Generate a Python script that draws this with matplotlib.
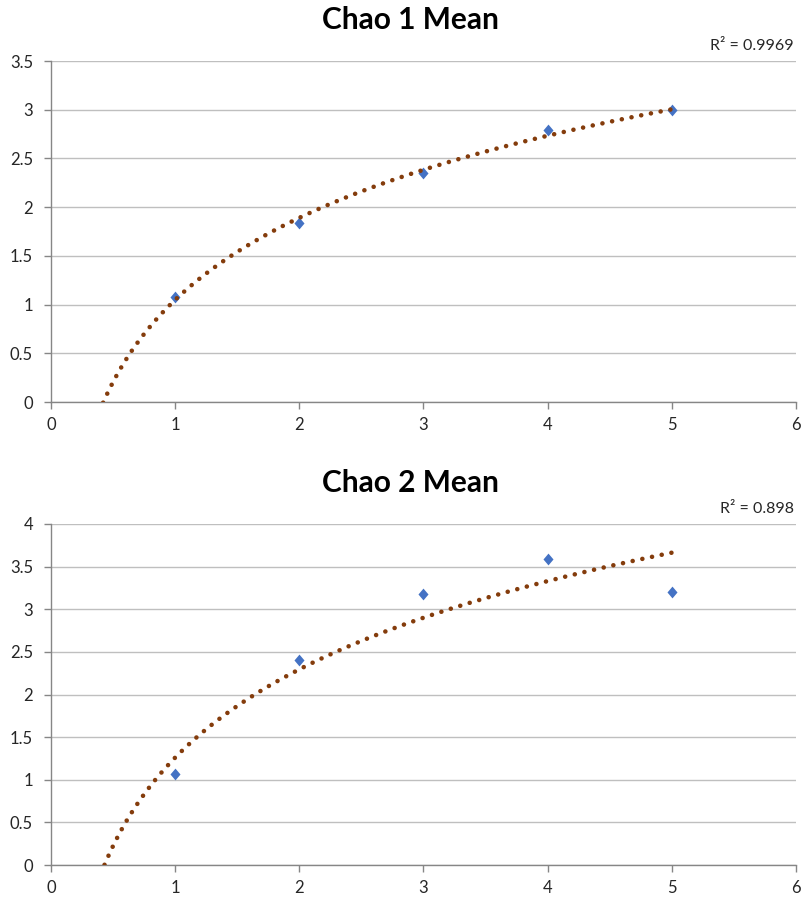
import numpy as np
import matplotlib
matplotlib.use("Agg")
import matplotlib.pyplot as plt
from matplotlib.ticker import FuncFormatter

plt.rcParams['font.family'] = ['Lato', 'DejaVu Sans']

# Sampling effort (x) and mean richness estimates
x_vals = [1, 2, 3, 4, 5]
chao1_mean = [1.08, 1.84, 2.35, 2.79, 3.00]
chao2_mean = [1.07, 2.41, 3.18, 3.59, 3.20]

titles = ["Chao 1 Mean", "Chao 2 Mean"]
r2_labels = ["R\u00b2 = 0.9969", "R\u00b2 = 0.898"]
y_maxes = [3.5, 4.0]
x_ticks = [0, 1, 2, 3, 4, 5, 6]

W, H = 804, 901
fig = plt.figure(figsize=(W / 100, H / 100), dpi=100)

# axes boxes in pixel coordinates: (left, top, right, bottom)
boxes = [(51, 61, 796, 402), (51, 524, 796, 865)]

grid_col = "#BFBFBF"
axis_col = "#868686"
marker_col = "#4472C4"
trend_col = "#843C0C"

# slightly narrow diamond marker
diamond = [(0, 1), (0.85, 0), (0, -1), (-0.85, 0), (0, 1)]


def fmt(v, pos):
    return ("%g" % v)


for series, title, r2, ymax, (l, t, r, b) in zip(
        [chao1_mean, chao2_mean], titles, r2_labels, y_maxes, boxes):
    ax = fig.add_axes([l / W, 1 - b / H, (r - l) / W, (b - t) / H])
    xs = np.array(x_vals, dtype=float)
    ys = np.array(series, dtype=float)

    # logarithmic least-squares trendline y = a*ln(x) + c
    a, c = np.polyfit(np.log(xs), ys, 1)
    xt = np.linspace(0.05, xs.max(), 600)
    yt = a * np.log(xt) + c

    ax.plot(xs, ys, linestyle="none", marker=diamond, markersize=8.5,
            color=marker_col, markeredgewidth=0, zorder=3, clip_on=False)
    ax.plot(xt, yt, color=trend_col, linewidth=3.3,
            linestyle=(0, (0.01, 2.15)), dash_capstyle="round", zorder=4)

    ax.set_xlim(0, 6)
    ax.set_ylim(0, ymax)
    ax.set_xticks(x_ticks)
    ax.set_yticks(np.arange(0, ymax + 0.01, 0.5))
    ax.xaxis.set_major_formatter(FuncFormatter(fmt))
    ax.yaxis.set_major_formatter(FuncFormatter(fmt))

    ax.grid(axis="y", color=grid_col, linewidth=1.0)
    ax.set_axisbelow(True)
    for s in ("top", "right"):
        ax.spines[s].set_visible(False)
    for s in ("left", "bottom"):
        ax.spines[s].set_color(axis_col)
        ax.spines[s].set_linewidth(1.0)
    ax.tick_params(axis="both", direction="out", length=5, width=1.0,
                   color=axis_col, labelsize=12, labelcolor="#262626")
    ax.tick_params(axis="y", pad=8)
    ax.tick_params(axis="x", pad=6)

    fig.text(0.51, 1 - (t - 41) / H, title, ha="center", va="center",
             fontsize=21.5, fontweight="bold", color="black")
    fig.text(794 / W, 1 - (t - 15) / H, r2, ha="right", va="center",
             fontsize=11.5, color="#262626")

fig.savefig("out.png", dpi=100, facecolor="white")
